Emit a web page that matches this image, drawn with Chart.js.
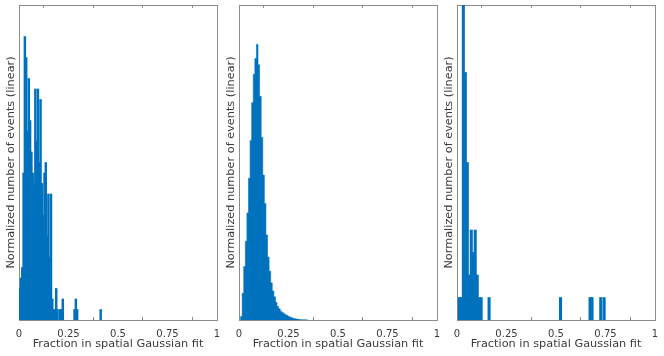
<!DOCTYPE html>
<html>
<head>
<meta charset="utf-8">
<script src="https://cdn.jsdelivr.net/npm/chart.js@4.4.1/dist/chart.umd.min.js"></script>
<style>
  html, body { margin: 0; padding: 0; background: #fff; }
  #wrap { position: relative; width: 664px; height: 356px; overflow: hidden; }
  #wrap canvas { position: absolute; top: 0; }
</style>
</head>
<body>
<div id="wrap">
  <canvas id="p1" width="220" height="356" style="left:0px"></canvas>
  <canvas id="p2" width="220" height="356" style="left:220px"></canvas>
  <canvas id="p3" width="220" height="356" style="left:438px"></canvas>
</div>
<script>
// x axis ticks (shared by the three panels)
const tickValues = [0, 0.25, 0.5, 0.75, 1];
const tickLabels = ['0', '0.25', '0.5', '0.75', '1'];
const xTitle = 'Fraction in spatial Gaussian fit';
const yTitle = 'Normalized number of events (linear)';

// panel 1 : bin centres / counts
const p1Bins = [0.0033, 0.0099, 0.0165, 0.0231, 0.0297, 0.0363, 0.0429, 0.0495, 0.0561, 0.0627,
                0.0693, 0.0759, 0.0825, 0.0891, 0.0957, 0.1023, 0.1089, 0.1155, 0.1221, 0.1287,
                0.1353, 0.1419, 0.1485, 0.1551, 0.1617, 0.1683, 0.1749, 0.1815, 0.1881, 0.1947,
                0.2079, 0.2145, 0.2211, 0.2805, 0.2871, 0.2937, 0.4125];
const p1Counts = [3, 4, 5, 14, 27, 25, 18, 23, 19, 16,
                  14, 13, 22, 17, 22, 15, 21, 13, 10, 14,
                  15, 8, 12, 6, 12, 2, 1, 1, 3, 1,
                  1, 1, 2, 1, 2, 1, 1];
const p1Max = 30;

// panel 2 : bin centres / normalized height (dense, drawn as a filled step outline)
const p2Bins = [0.004, 0.012, 0.020, 0.028, 0.036, 0.044, 0.052, 0.060, 0.068, 0.076,
                0.084, 0.092, 0.100, 0.108, 0.116, 0.124, 0.132, 0.140, 0.148, 0.156,
                0.164, 0.172, 0.180, 0.188, 0.196, 0.204, 0.212, 0.220, 0.228, 0.236,
                0.244, 0.252, 0.260, 0.268, 0.276, 0.284, 0.292, 0.300, 0.308, 0.316,
                0.324, 0.332, 0.340, 0.348];
const p2Heights = [0.000, 0.011, 0.085, 0.17, 0.25, 0.34, 0.45, 0.57, 0.69, 0.78,
                   0.83, 0.875, 0.81, 0.71, 0.58, 0.46, 0.37, 0.27, 0.20, 0.155,
                   0.118, 0.092, 0.074, 0.056, 0.043, 0.036, 0.028, 0.024, 0.020, 0.017,
                   0.014, 0.011, 0.009, 0.007, 0.005, 0.004, 0.003, 0.002, 0.0015, 0.001,
                   0.001, 0.0008, 0.0005, 0];
const p2Max = 1;

// panel 3 : bin centres / counts
const p3Bins = [0.012, 0.022, 0.032, 0.042, 0.052, 0.062, 0.072, 0.082, 0.092, 0.102,
                0.112, 0.122, 0.162, 0.523, 0.672, 0.682, 0.726, 0.743];
const p3Counts = [1, 1, 14, 11, 7, 2, 4, 3, 4, 2,
                  1, 1, 1, 1, 1, 1, 1, 1];
const p3Max = 14;

const BLUE = '#0072bd';
const AXIS = '#8c8c8c';
const TEXT = '#3c3c3c';
const FONT = "'DejaVu Sans', sans-serif";

// fixed box sizes so every plot area lands at the same spot in its canvas
function fixBox(w, h) {
  return (s) => {
    if (w != null) s.width = w;
    if (h != null) s.height = h;
    s.paddingLeft = 0;
    s.paddingRight = 0;
    s.paddingTop = 0;
    s.paddingBottom = 0;
  };
}

function barSet(pts, barPx) {
  return {
    type: 'bar',
    data: pts,
    backgroundColor: BLUE,
    borderWidth: 0,
    barThickness: barPx,
  };
}

function stepSet(pts) {
  return {
    type: 'line',
    data: pts,
    stepped: 'middle',
    fill: 'origin',
    backgroundColor: BLUE,
    borderColor: BLUE,
    borderWidth: 0.6,
    pointRadius: 0,
  };
}

function histPanel(id, bins, heights, yMax, dataset) {
  const pts = bins.map((b, i) => ({ x: b, y: heights[i] }));
  const boxAxis = {
    display: true,
    ticks: { display: false },
    grid: { display: false },
    border: { display: true, color: AXIS, width: 1 },
  };
  return new Chart(document.getElementById(id), {
    type: 'bar',
    data: { datasets: [dataset(pts)] },
    options: {
      responsive: false,
      animation: false,
      layout: { padding: 0 },
      plugins: { legend: { display: false }, tooltip: { enabled: false } },
      scales: {
        x: {
          type: 'linear',
          position: 'bottom',
          min: 0,
          max: 1,
          offset: false,
          afterBuildTicks: (s) => { s.ticks = tickValues.map((v) => ({ value: v })); },
          afterFit: fixBox(null, 36),
          grid: { display: true, drawOnChartArea: false, drawTicks: true, tickLength: -3, color: AXIS },
          border: { display: true, color: AXIS, width: 1 },
          ticks: {
            padding: 11,
            color: TEXT,
            font: { family: FONT, size: 10 },
            maxRotation: 0,
            autoSkip: false,
            callback: (v, i) => tickLabels[i],
          },
          title: {
            display: true,
            text: xTitle,
            color: TEXT,
            font: { family: FONT, size: 11.3 },
            padding: { top: 0, bottom: 5 },
          },
        },
        xTop: {
          type: 'linear',
          position: 'top',
          min: 0,
          max: 1,
          offset: false,
          afterBuildTicks: (s) => { s.ticks = tickValues.map((v) => ({ value: v })); },
          afterFit: fixBox(null, 5),
          ticks: { display: false },
          grid: { display: true, drawOnChartArea: false, drawTicks: true, tickLength: -3, color: AXIS },
          border: { display: true, color: AXIS, width: 1 },
        },
        y: {
          ...boxAxis,
          position: 'left',
          min: 0,
          max: yMax,
          afterFit: fixBox(19, null),
          title: {
            display: true,
            text: yTitle,
            color: TEXT,
            font: { family: FONT, size: 11.3 },
            padding: { top: 4, bottom: 0 },
          },
        },
        yRight: {
          ...boxAxis,
          position: 'right',
          min: 0,
          max: 1,
          afterFit: fixBox(3, null),
        },
      },
    },
  });
}

histPanel('p1', p1Bins, p1Counts, p1Max, (pts) => barSet(pts, 1.8));
histPanel('p2', p2Bins, p2Heights, p2Max, stepSet);
histPanel('p3', p3Bins, p3Counts, p3Max, (pts) => barSet(pts, 2.4));
</script>
</body>
</html>
